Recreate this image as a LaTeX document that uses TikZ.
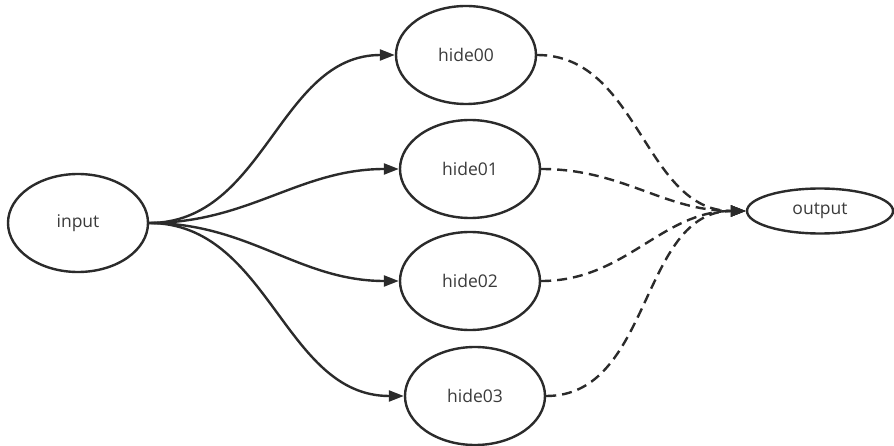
\documentclass[tikz,border=0pt]{standalone}
\usepackage{fontspec}
\setmainfont{Open Sans}
\usetikzlibrary{shapes.geometric,arrows.meta}
\definecolor{linec}{HTML}{2B2B2B}
\definecolor{textc}{HTML}{3A3A3A}
\begin{document}
\begin{tikzpicture}[x=1pt,y=-1pt,
  el/.style={ellipse,draw=linec,line width=2.4pt,inner sep=0pt,
    minimum width=140pt,minimum height=98pt,font=\fontsize{17.5}{20}\selectfont,text=textc},
  solidarr/.style={draw=linec,line width=2.4pt,-{Triangle[length=15pt,width=11pt]}},
  dasharr/.style={draw=linec,line width=2.4pt,dash pattern=on 10pt off 6pt,-{Triangle[length=15pt,width=11pt]}}]
\useasboundingbox (0,0) rectangle (894,446);
\node[el] (in) at (78,223) {input};
\node[el] (h0) at (466,55) {hide00};
\node[el] (h1) at (470,169) {hide01};
\node[el] (h2) at (470,281) {hide02};
\node[el] (h3) at (475,396) {hide03};
\node[el,minimum width=146pt,minimum height=45pt] (out) at (820,211) {output};
\foreach \h in {h0,h1,h2,h3}{
  \draw[solidarr] (in.east) to[out=0,in=180] (\h.west);
  \draw[dasharr] (\h.east) to[out=0,in=180] (out.west);
}
\end{tikzpicture}
\end{document}
